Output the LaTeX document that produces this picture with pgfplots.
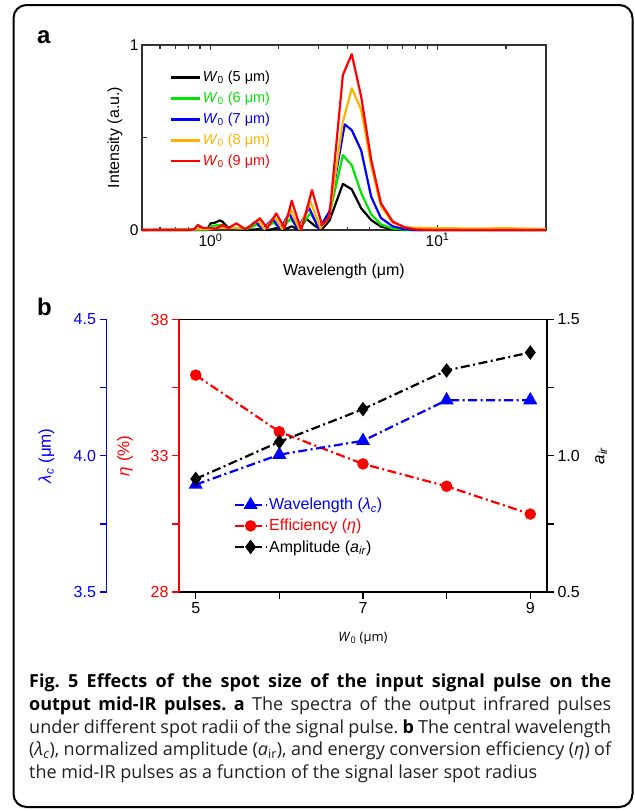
\documentclass[border=0pt]{standalone}
\usepackage{pgfplots}
\pgfplotsset{compat=1.18}
\usepackage{pgfplotstable}
\usepackage{fontspec}
\setmainfont{Liberation Sans}
\newfontfamily\capfont{Open Sans}
\definecolor{cgreen}{RGB}{0,230,0}
\definecolor{corange}{RGB}{255,178,0}
\definecolor{cred}{RGB}{255,0,0}
\definecolor{cblue}{RGB}{0,0,255}
\definecolor{frame}{RGB}{50,50,50}
\definecolor{captxt}{RGB}{35,31,32}
\newcommand{\fs}[1]{\fontsize{#1bp}{#1bp}\selectfont}

\pgfplotstableread{
x y
0.5 0
0.97 0
1.0 0.035
1.05 0.04
1.1 0.052
1.13 0.045
1.18 0.02
1.22 0.01
1.3 0.005
1.45 0
1.65 0.005
1.8 0
1.95 0.01
2.10 0
2.28 0.02
2.45 0
2.65 0.06
2.9 0.02
3.10 0.005
3.34 0.05
3.83 0.249
4.19 0.22
4.61 0.117
5.10 0.054
5.63 0.018
6.34 0.004
7.14 0
30 0
}\specA

\pgfplotstableread{
x y
0.5 0
0.97 0
1.0 0.02
1.1 0.028
1.18 0.015
1.3 0.01
1.45 0.005
1.6 0.03
1.7 0.005
1.9 0.04
2.05 0.005
2.25 0.06
2.45 0.005
2.75 0.09
3.05 0.01
3.34 0.08
3.83 0.405
4.19 0.35
4.61 0.2
5.10 0.085
5.63 0.03
6.34 0.008
7.14 0.002
8 0
30 0
}\specB

\pgfplotstableread{
x y
0.5 0
1.0 0.005
1.1 0.015
1.3 0.01
1.45 0.01
1.58 0.045
1.7 0.005
1.88 0.06
2.03 0.005
2.22 0.09
2.42 0.005
2.72 0.12
3.0 0.005
3.34 0.10
3.9 0.571
4.19 0.54
4.61 0.43
5.10 0.18
5.63 0.065
6.34 0.02
7.14 0.005
8 0
30 0
}\specC

\pgfplotstableread{
x y
0.5 0
1.0 0.005
1.1 0.012
1.3 0.01
1.45 0.01
1.62 0.05
1.73 0.005
1.92 0.07
2.07 0.005
2.26 0.11
2.46 0.005
2.76 0.153
3.05 0.01
3.34 0.07
3.83 0.585
4.19 0.766
4.61 0.65
5.10 0.35
5.63 0.13
6.34 0.04
7.14 0.015
8 0.012
10 0.01
15 0.008
20 0.01
30 0.005
}\specD

\pgfplotstableread{
x y
0.5 0
0.8 0
0.85 0.005
0.88 0.027
0.93 0.01
0.98 0.012
1.05 0.005
1.13 0.027
1.2 0.01
1.30 0.036
1.42 0.005
1.5 0.02
1.65 0.063
1.78 0.01
1.95 0.09
2.12 0.01
2.28 0.158
2.51 0
2.80 0.216
3.10 0.027
3.34 0.07
3.83 0.838
4.19 0.951
4.61 0.72
5.10 0.38
5.63 0.145
6.34 0.046
7.14 0.015
8 0.003
10 0
30 0
}\specE

\begin{document}
\frenchspacing
\begin{tikzpicture}
\path[use as bounding box] (0,0) rectangle (635bp,-811bp);
\draw[line width=2bp, rounded corners=13bp] (13.5bp,-5bp) rectangle (632.5bp,-807bp);
\node[anchor=base west, font=\bfseries\fs{24}, inner sep=0pt] at (37bp,-43bp) {a};
\node[anchor=base west, font=\bfseries\fs{24}, inner sep=0pt] at (37bp,-315bp) {b};

% ---------------- panel a
\begin{axis}[
 at={(142bp,-230bp)}, anchor=south west, scale only axis,
 width=404bp, height=185bp,
 xmode=log, xmin=0.5, xmax=30, ymin=0, ymax=1,
 xtick={1,10}, xticklabels={10\textsuperscript{0},10\textsuperscript{1}},
 minor xtick={0.6,0.7,0.8,0.9,2,3,4,5,6,7,8,9,20},
 ytick={0,0.5,1}, yticklabels={0,,1}, ytick pos=left,
 tick align=inside, major tick length=5bp, minor tick length=3.5bp,
 axis line style={frame, line width=1.3bp},
 tick style={frame, line width=1.1bp},
 tick label style={font=\fs{15.5}},
 xlabel={Wavelength (μm)}, ylabel={Intensity (a.u.)},
 label style={font=\fs{16}},
 xlabel style={at={(axis description cs:0.5,-0.222)}, anchor=center},
 ylabel style={at={(axis description cs:-0.067,0.5)}, anchor=center},
 clip=false,
 legend style={draw=none, fill=none, at={(axis description cs:0.067,0.87)},
   anchor=north west, font=\fs{14.5}, row sep=5bp, inner sep=0pt},
 legend cell align=left,
 legend image code/.code={\draw[#1, line width=2.6bp] (0bp,0bp) -- (29bp,0bp);},
 every axis plot/.append style={line width=2.2bp, line join=round},
]
\addplot[black] table {\specA};
\addlegendentry{\textcolor{black}{\textit{W}\textsubscript{0} (5 μm)}}
\addplot[cgreen] table {\specB};
\addlegendentry{\textcolor{cgreen}{\textit{W}\textsubscript{0} (6 μm)}}
\addplot[cblue] table {\specC};
\addlegendentry{\textcolor{cblue}{\textit{W}\textsubscript{0} (7 μm)}}
\addplot[corange] table {\specD};
\addlegendentry{\textcolor{corange}{\textit{W}\textsubscript{0} (8 μm)}}
\addplot[cred] table {\specE};
\addlegendentry{\textcolor{cred}{\textit{W}\textsubscript{0} (9 μm)}}
\end{axis}

% ---------------- panel b : blue offset axis
\begin{axis}[
 at={(106.5bp,-592bp)}, anchor=south west, scale only axis,
 width=368bp, height=272.5bp,
 xmin=4.8, xmax=9.2, ymin=3.5, ymax=4.5,
 hide x axis, axis y line*=left,
 y axis line style={cblue, line width=1.8bp, -},
 ytick={3.5,3.75,4,4.25,4.5}, yticklabels={3.5,,4.0,,4.5},
 tick align=outside, major tick length=7bp,
 ytick style={cblue, line width=1.4bp},
 yticklabel style={cblue, font=\fs{16}},
 ylabel={\textit{λ}\textsubscript{\textit{c}} (μm)},
 ylabel style={cblue, font=\fs{17}, at={(axis description cs:-0.163,0.5)}, anchor=center},
]
\end{axis}

% main axis (efficiency, red)
\begin{axis}[
 at={(179bp,-592bp)}, anchor=south west, scale only axis,
 width=368bp, height=272.5bp,
 xmin=4.8, xmax=9.2, ymin=28, ymax=38,
 axis x line*=bottom, axis y line*=left,
 xtick={5,6,7,8,9}, xticklabels={5,,7,,9},
 ytick={28,30.5,33,35.5,38}, yticklabels={28,,33,,38},
 tick align=outside, major tick length=7bp,
 x axis line style={black, line width=1.6bp, -},
 y axis line style={cred, line width=1.6bp, -},
 xtick style={black, line width=1.4bp},
 ytick style={cred, line width=1.4bp},
 yticklabel style={cred},
 tick label style={font=\fs{16}},
 ylabel={\textit{η} (\%)},
 ylabel style={cred, font=\fs{17}, at={(axis description cs:-0.147,0.5)}, anchor=center},
 xlabel={\capfont\textit{W}\textsubscript{0} (μm)},
 xlabel style={font=\fs{13}, at={(axis description cs:0.5,-0.169)}, anchor=center},
]
\addplot[cred, line width=2.2bp, dash pattern=on 9bp off 3.5bp on 2bp off 3.5bp,
  mark=*, mark size=4.6bp, mark options={solid, fill=cred}]
  coordinates {(5,35.96) (6,33.88) (7,32.70) (8,31.88) (9,30.86)};
\end{axis}

% blue data
\begin{axis}[
 at={(179bp,-592bp)}, anchor=south west, scale only axis,
 width=368bp, height=272.5bp,
 xmin=4.8, xmax=9.2, ymin=3.5, ymax=4.5,
 hide x axis, hide y axis,
]
\addplot[cblue, line width=2.2bp, dash pattern=on 9bp off 3.5bp on 2bp off 3.5bp,
  mark=triangle*, mark size=6bp, mark options={solid, fill=cblue}]
  coordinates {(5,3.894) (6,4.004) (7,4.055) (8,4.204) (9,4.204)};
\end{axis}

% black data and right axis
\begin{axis}[
 at={(179bp,-592bp)}, anchor=south west, scale only axis,
 width=368bp, height=272.5bp,
 xmin=4.8, xmax=9.2, ymin=0.5, ymax=1.5,
 hide x axis, axis y line*=right,
 y axis line style={black, line width=1.6bp, -},
 ytick={0.5,0.75,1,1.25,1.5}, yticklabels={0.5,,1.0,,1.5},
 tick align=outside, major tick length=7bp,
 ytick style={black, line width=1.4bp},
 yticklabel style={font=\fs{16}},
 ylabel={\textit{a}\textsubscript{\textit{ir}}},
 ylabel style={font=\fs{17}, at={(axis description cs:1.147,0.5)}, anchor=center},
 legend style={draw=none, fill=none, at={(axis description cs:0.149,0.352)},
   anchor=north west, font=\fs{16}, row sep=4bp, inner sep=0pt},
 legend cell align=left,
 legend image code/.code={\draw[#1, mark repeat=2, mark phase=2] plot coordinates {(0bp,0bp) (15.5bp,0bp) (31bp,0bp)};},
]
\draw[black, line width=1.6bp] (rel axis cs:0,1) -- (rel axis cs:1,1);
\addlegendimage{cblue, line width=2.2bp, dash pattern=on 9bp off 3.5bp on 2bp off 3.5bp,
  mark=triangle*, mark size=6bp, mark options={solid, fill=cblue}}
\addlegendentry{\textcolor{cblue}{Wavelength (\textit{λ}\textsubscript{\textit{c}})}}
\addlegendimage{cred, line width=2.2bp, dash pattern=on 9bp off 3.5bp on 2bp off 3.5bp,
  mark=*, mark size=4.6bp, mark options={solid, fill=cred}}
\addlegendentry{\textcolor{cred}{Efficiency (\textit{η})}}
\addplot[black, line width=2.2bp, dash pattern=on 9bp off 3.5bp on 2bp off 3.5bp,
  mark=diamond*, mark size=5.5bp, mark options={solid, fill=black}]
  coordinates {(5,0.915) (6,1.051) (7,1.171) (8,1.313) (9,1.379)};
\addlegendentry{Amplitude (\textit{a}\textsubscript{\textit{ir}})}
\end{axis}

% ---------------- caption
\begin{scope}[every node/.style={anchor=base west, inner sep=0pt, font=\capfont\fs{18}, text=captxt}]
\node at (29bp,-687.5bp) {\makebox[582bp][s]{\bfseries\color{black}Fig. 5 Effects of the spot size of the input signal pulse on the}};
\node at (29bp,-710.5bp) {\makebox[582bp][s]{{\bfseries\color{black}output mid-IR pulses. a} The spectra of the output infrared pulses}};
\node at (29bp,-733bp) {\makebox[582bp][s]{under different spot radii of the signal pulse. {\bfseries\color{black}b} The central wavelength}};
\node at (29bp,-755.5bp) {\makebox[582bp][s]{(\textit{λ}\textsubscript{\textit{c}}), normalized amplitude (\textit{a}\textsubscript{ir}), and energy conversion efficiency (\textit{η}) of}};
\node at (29bp,-778bp) {the mid-IR pulses as a function of the signal laser spot radius};
\end{scope}
\end{tikzpicture}
\end{document}
